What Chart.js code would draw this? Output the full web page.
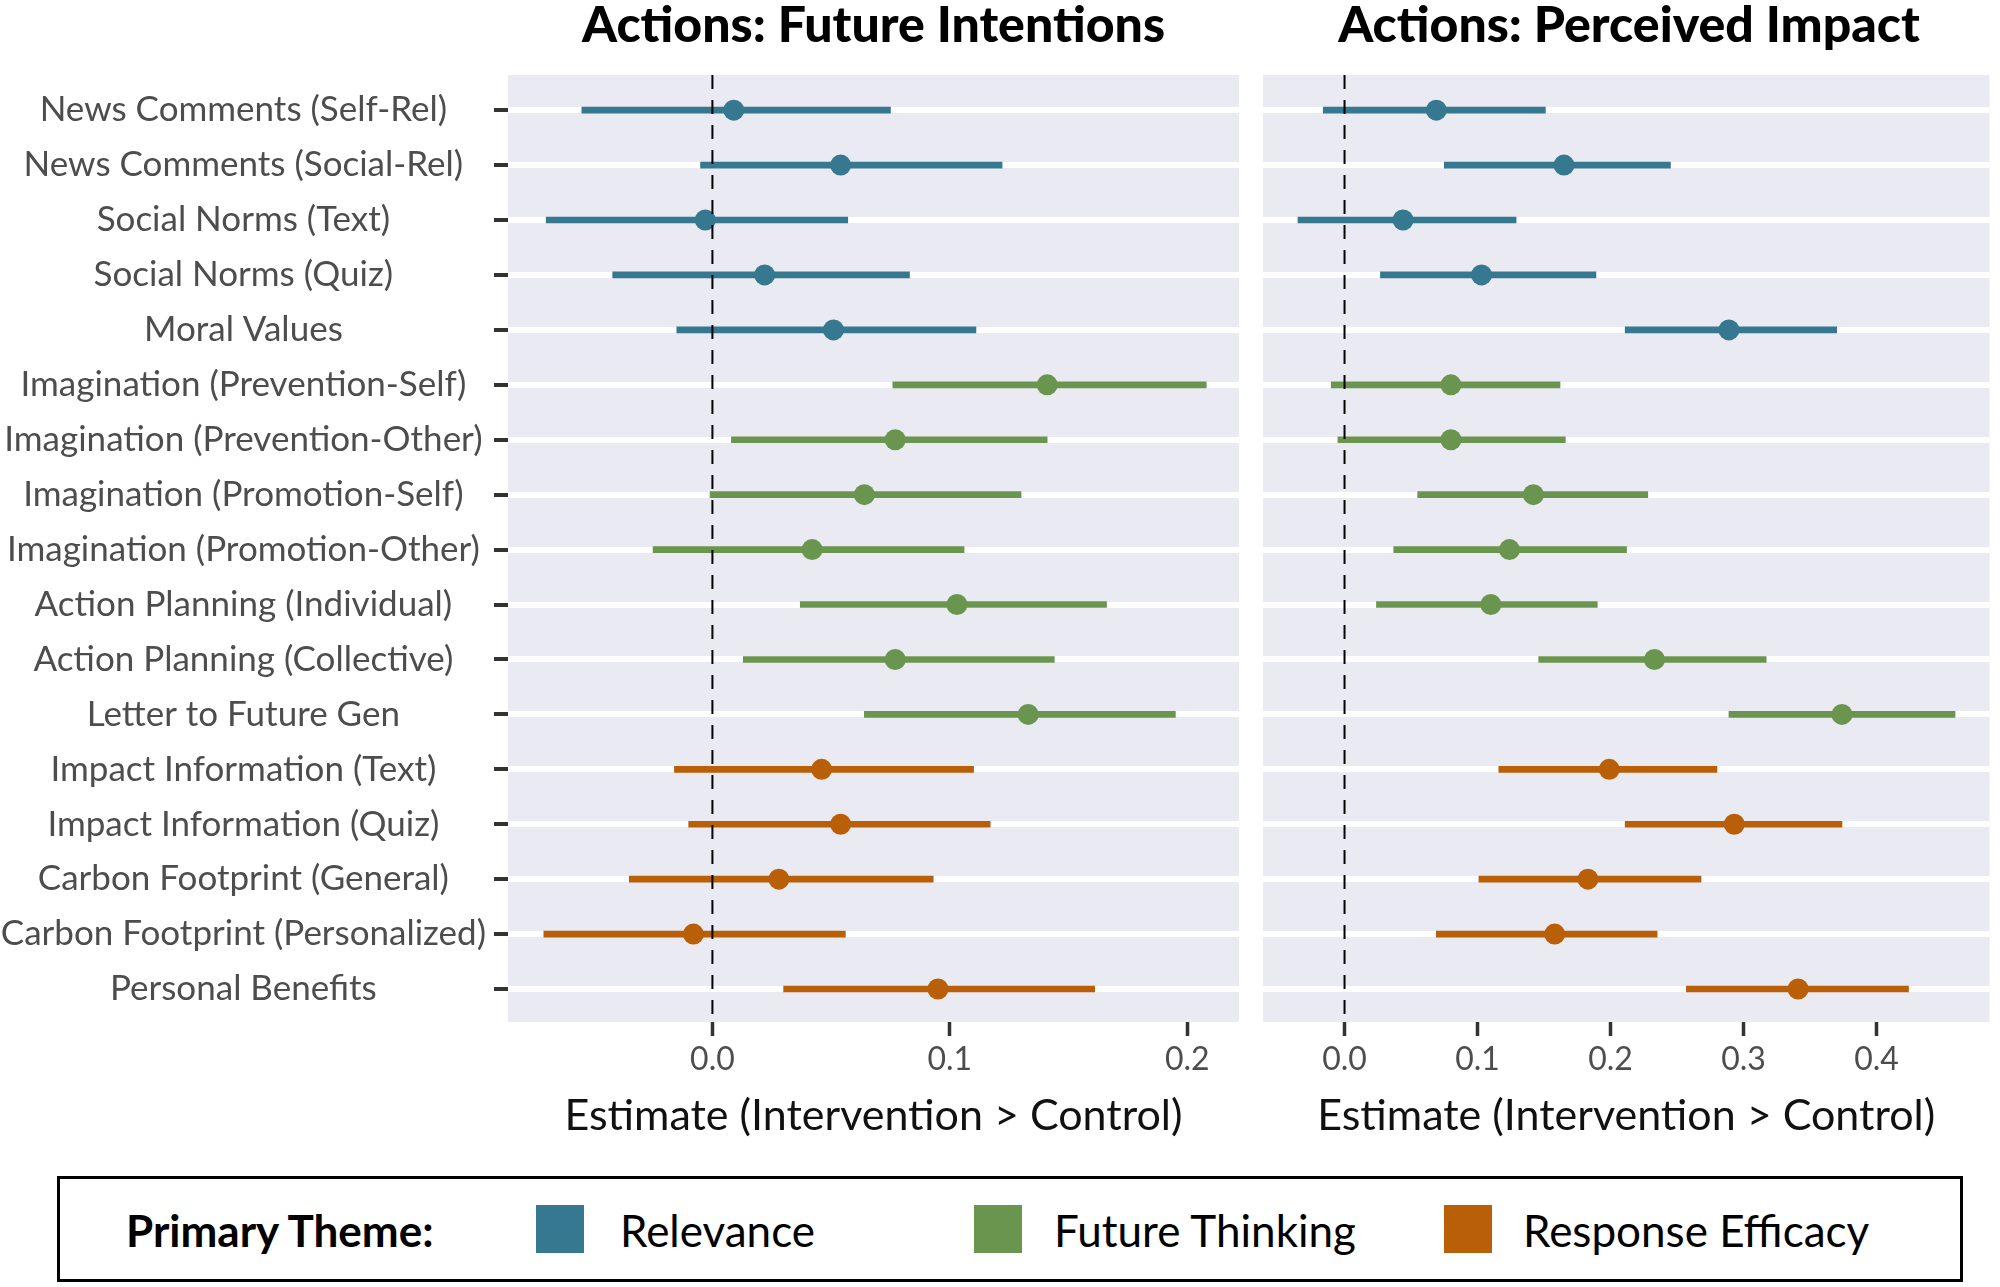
<!DOCTYPE html>
<html>
<head>
<meta charset="utf-8">
<script src="https://cdn.jsdelivr.net/npm/chart.js@4.4.0/dist/chart.umd.min.js"></script>
<style>
  html, body { margin: 0; padding: 0; background: #fff; }
  body { width: 2000px; height: 1287px; position: relative; overflow: hidden; font-family: Lato, sans-serif; }
  .panel-title { position: absolute; top: -2px; font-weight: 900; font-size: 50px; line-height: 50px; text-align: center; color: #000; }
  .wrap { position: absolute; top: 0; height: 1150px; }
  #legend { position: absolute; left: 57px; top: 1176px; width: 1906px; height: 106px; box-sizing: border-box; border: 3px solid #000; }
  #legend .lab { position: absolute; top: 26px; font-size: 44px; line-height: 50px; color: #000; }
  #legend .sw { position: absolute; top: 26px; width: 48px; height: 48px; }
</style>
</head>
<body>
<div class="panel-title" style="left:508px;width:731px;">Actions: Future Intentions</div>
<div class="panel-title" style="left:1263px;width:732px;">Actions: Perceived Impact</div>
<div class="wrap" style="left:0;width:1250px;"><canvas id="intentChart"></canvas></div>
<div class="wrap" style="left:1250px;width:750px;"><canvas id="impactChart"></canvas></div>
<div id="legend"></div>

<script>
const categories = [
    'News Comments (Self-Rel)', 'News Comments (Social-Rel)', 'Social Norms (Text)', 'Social Norms (Quiz)',
    'Moral Values', 'Imagination (Prevention-Self)', 'Imagination (Prevention-Other)',
    'Imagination (Promotion-Self)', 'Imagination (Promotion-Other)', 'Action Planning (Individual)',
    'Action Planning (Collective)', 'Letter to Future Gen', 'Impact Information (Text)',
    'Impact Information (Quiz)', 'Carbon Footprint (General)', 'Carbon Footprint (Personalized)',
    'Personal Benefits'
];
const themeNames = ['Relevance', 'Future Thinking', 'Response Efficacy'];
const themeColors = ['#35788F', '#6A954F', '#B85F07'];
const rowTheme = [0, 0, 0, 0, 0, 1, 1, 1, 1, 1, 1, 1, 2, 2, 2, 2, 2];

// Future intentions
const intentEstimate = [0.009, 0.054, -0.003, 0.022, 0.051, 0.141, 0.077, 0.064, 0.042, 0.103, 0.077, 0.133, 0.046, 0.054, 0.028, -0.008, 0.095];
const intentLower    = [-0.055, -0.005, -0.070, -0.042, -0.015, 0.076, 0.008, -0.001, -0.025, 0.037, 0.013, 0.064, -0.016, -0.010, -0.035, -0.071, 0.030];
const intentUpper    = [0.075, 0.122, 0.057, 0.083, 0.111, 0.208, 0.141, 0.130, 0.106, 0.166, 0.144, 0.195, 0.110, 0.117, 0.093, 0.056, 0.161];

// Perceived impact
const impactEstimate = [0.069, 0.165, 0.044, 0.103, 0.289, 0.080, 0.080, 0.142, 0.124, 0.110, 0.233, 0.374, 0.199, 0.293, 0.183, 0.158, 0.341];
const impactLower    = [-0.016, 0.075, -0.035, 0.027, 0.211, -0.010, -0.005, 0.055, 0.037, 0.024, 0.146, 0.289, 0.116, 0.211, 0.101, 0.069, 0.257];
const impactUpper    = [0.151, 0.245, 0.129, 0.189, 0.370, 0.162, 0.166, 0.228, 0.212, 0.190, 0.317, 0.459, 0.280, 0.374, 0.268, 0.235, 0.424];

const intentTicks = [0.0, 0.1, 0.2];
const impactTicks = [0.0, 0.1, 0.2, 0.3, 0.4];

// row axis limits (rows are 1..17, top to bottom)
const rowMin = 0.36;
const rowMax = 17.6;

Chart.defaults.font.family = 'Lato';

const rowColors = rowTheme.map(t => themeColors[t]);

const panelBackground = {
    id: 'panelBackground',
    beforeDraw(chart) {
        const a = chart.chartArea;
        const c = chart.ctx;
        c.save();
        c.fillStyle = '#EAEAF2';
        c.fillRect(a.left, a.top, a.right - a.left, a.bottom - a.top);
        c.restore();
    }
};

function makePanel(canvasId, est, lo, hi, xMin, xMax, xTicks, showLabels, yWidth, padRight) {
    const ctx = document.getElementById(canvasId).getContext('2d');
    return new Chart(ctx, {
        type: 'scatter',
        data: {
            datasets: [
                {
                    type: 'line',
                    order: 0,
                    data: [{x: 0, y: rowMin}, {x: 0, y: rowMax}],
                    borderColor: '#000',
                    borderWidth: 2,
                    borderDash: [14, 11],
                    pointRadius: 0,
                    fill: false
                },
                {
                    type: 'scatter',
                    order: 1,
                    data: est.map((v, i) => ({x: v, y: i + 1})),
                    backgroundColor: rowColors,
                    borderWidth: 0,
                    pointRadius: 10.5,
                    pointHoverRadius: 10.5
                },
                {
                    type: 'bar',
                    order: 2,
                    indexAxis: 'y',
                    data: lo.map((v, i) => ({y: i + 1, x: [v, hi[i]]})),
                    backgroundColor: rowColors,
                    borderWidth: 0,
                    barThickness: 6,
                    borderSkipped: false
                }
            ]
        },
        options: {
            responsive: true,
            maintainAspectRatio: false,
            animation: false,
            layout: { padding: { top: 75, right: padRight, left: 0, bottom: 0 } },
            plugins: {
                legend: { display: false },
                tooltip: { enabled: false }
            },
            scales: {
                x: {
                    type: 'linear',
                    min: xMin,
                    max: xMax,
                    offset: false,
                    afterBuildTicks: function(scale) {
                        scale.ticks = xTicks.map(v => ({value: v}));
                    },
                    afterFit: function(scale) { scale.height = 128; },
                    border: { display: false },
                    grid: {
                        offset: false,
                        drawOnChartArea: false,
                        drawTicks: true,
                        tickLength: 14,
                        tickWidth: 3.5,
                        tickColor: '#333333'
                    },
                    ticks: {
                        color: '#4D4D4D',
                        font: { size: 32 },
                        padding: 4,
                        callback: function(value) { return value.toFixed(1); }
                    },
                    title: {
                        display: true,
                        text: 'Estimate (Intervention > Control)',
                        color: '#111',
                        font: { size: 43 },
                        padding: { top: 4, bottom: 8 }
                    }
                },
                y: {
                    type: 'linear',
                    reverse: true,
                    min: rowMin,
                    max: rowMax,
                    offset: false,
                    afterBuildTicks: function(scale) {
                        scale.ticks = categories.map((c, i) => ({value: i + 1}));
                    },
                    afterFit: function(scale) { scale.width = yWidth; },
                    border: { display: false },
                    grid: {
                        offset: false,
                        color: '#FFFFFF',
                        lineWidth: 6,
                        drawTicks: showLabels,
                        tickLength: 14,
                        tickWidth: 4,
                        tickColor: '#333333'
                    },
                    ticks: {
                        display: showLabels,
                        autoSkip: false,
                        crossAlign: 'center',
                        padding: 8,
                        color: '#4D4D4D',
                        font: { size: 35 },
                        callback: function(value) { return categories[Math.round(value) - 1]; }
                    }
                }
            }
        },
        plugins: [panelBackground]
    });
}

makePanel('intentChart', intentEstimate, intentLower, intentUpper, -0.0861, 0.2218, intentTicks, true, 508, 11);
makePanel('impactChart', impactEstimate, impactLower, impactUpper, -0.0613, 0.4849, impactTicks, false, 13, 5);

// Shared legend
const legend = document.getElementById('legend');
const head = document.createElement('div');
head.className = 'lab';
head.style.left = '66px';
head.style.fontWeight = 'bold';
head.textContent = 'Primary Theme:';
legend.appendChild(head);
const swatchX = [476, 914, 1384];
const labelX = [560, 994, 1463];
themeNames.forEach(function(name, i) {
    const sw = document.createElement('div');
    sw.className = 'sw';
    sw.style.left = swatchX[i] + 'px';
    sw.style.background = themeColors[i];
    legend.appendChild(sw);
    const lab = document.createElement('div');
    lab.className = 'lab';
    lab.style.left = labelX[i] + 'px';
    lab.textContent = name;
    legend.appendChild(lab);
});
</script>
</body>
</html>
